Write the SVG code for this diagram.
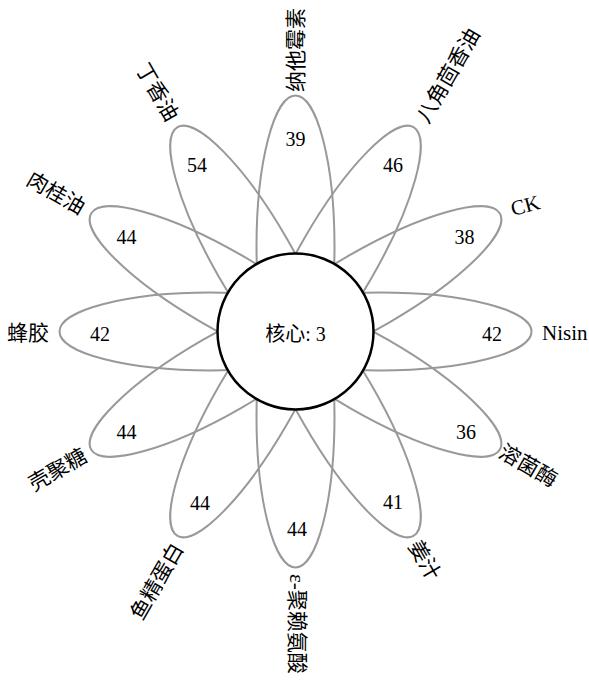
<svg xmlns="http://www.w3.org/2000/svg" width="589" height="680" viewBox="0 0 589 680">
<style>
.petal{fill:none;stroke:#999999;stroke-width:2}
.core{fill:#ffffff;stroke:#000000;stroke-width:2.5}
.num{font-family:"Liberation Serif","Noto Sans CJK SC",serif;font-size:20px;fill:#000;text-anchor:middle}
.lab{font-family:"Liberation Serif","Noto Sans CJK SC",serif;font-size:21px;fill:#000}
.s{text-anchor:start}
.e{text-anchor:end}
</style>
<rect width="589" height="680" fill="#ffffff"/>
<g id="petals" transform="translate(295.5 331.5)">
<ellipse id="p-natamycin" class="petal" cx="85" cy="0" rx="151" ry="39" transform="rotate(-90)"/>
<ellipse id="p-anise" class="petal" cx="85" cy="0" rx="151" ry="39" transform="rotate(-60)"/>
<ellipse id="p-ck" class="petal" cx="85" cy="0" rx="151" ry="39" transform="rotate(-30)"/>
<ellipse id="p-nisin" class="petal" cx="85" cy="0" rx="151" ry="39" transform="rotate(0)"/>
<ellipse id="p-lysozyme" class="petal" cx="85" cy="0" rx="151" ry="39" transform="rotate(30)"/>
<ellipse id="p-ginger" class="petal" cx="85" cy="0" rx="151" ry="39" transform="rotate(60)"/>
<ellipse id="p-polylysine" class="petal" cx="85" cy="0" rx="151" ry="39" transform="rotate(90)"/>
<ellipse id="p-protamine" class="petal" cx="85" cy="0" rx="151" ry="39" transform="rotate(120)"/>
<ellipse id="p-chitosan" class="petal" cx="85" cy="0" rx="151" ry="39" transform="rotate(150)"/>
<ellipse id="p-propolis" class="petal" cx="85" cy="0" rx="151" ry="39" transform="rotate(180)"/>
<ellipse id="p-cinnamon" class="petal" cx="85" cy="0" rx="151" ry="39" transform="rotate(210)"/>
<ellipse id="p-clove" class="petal" cx="85" cy="0" rx="151" ry="39" transform="rotate(240)"/>
</g>
<g id="core">
<circle class="core" cx="295.5" cy="331.5" r="78"/>
<text class="num" x="295.5" y="334" dy="0.35em">核心: 3</text>
</g>
<g id="counts">
<text class="num" x="295.5" y="139" dy="0.35em">39</text>
<text class="num" x="393" y="165" dy="0.35em">46</text>
<text class="num" x="464.4" y="236.5" dy="0.35em">38</text>
<text class="num" x="492" y="334" dy="0.35em">42</text>
<text class="num" x="466" y="431.5" dy="0.35em">36</text>
<text class="num" x="393" y="502" dy="0.35em">41</text>
<text class="num" x="297" y="529" dy="0.35em">44</text>
<text class="num" x="200" y="503" dy="0.35em">44</text>
<text class="num" x="126.6" y="431.5" dy="0.35em">44</text>
<text class="num" x="100" y="334" dy="0.35em">42</text>
<text class="num" x="126.6" y="236.5" dy="0.35em">44</text>
<text class="num" x="197" y="165" dy="0.35em">54</text>
</g>
<g id="labels">
<text class="lab s" transform="translate(296 92) rotate(-90)" dy="0.35em">纳他霉素</text>
<text class="lab s" transform="translate(422 121) rotate(-60)" dy="0.35em">八角茴香油</text>
<text class="lab s" transform="translate(511 209) rotate(-15)" dy="0.35em">CK</text>
<text class="lab s" transform="translate(542 333) rotate(0)" dy="0.35em">Nisin</text>
<text class="lab s" transform="translate(501 450) rotate(30)" dy="0.35em">溶菌酶</text>
<text class="lab s" transform="translate(414 542) rotate(60)" dy="0.35em">姜汁</text>
<text class="lab s" transform="translate(297 574) rotate(90)" dy="0.35em">ε-聚赖氨酸</text>
<text class="lab e" transform="translate(178 545) rotate(-60)" dy="0.35em">鱼精蛋白</text>
<text class="lab e" transform="translate(85 454) rotate(-30)" dy="0.35em">壳聚糖</text>
<text class="lab e" transform="translate(49 333) rotate(0)" dy="0.35em">蜂胶</text>
<text class="lab e" transform="translate(83.3 209) rotate(30)" dy="0.35em">肉桂油</text>
<text class="lab e" transform="translate(173 119.3) rotate(60)" dy="0.35em">丁香油</text>
</g>
</svg>
